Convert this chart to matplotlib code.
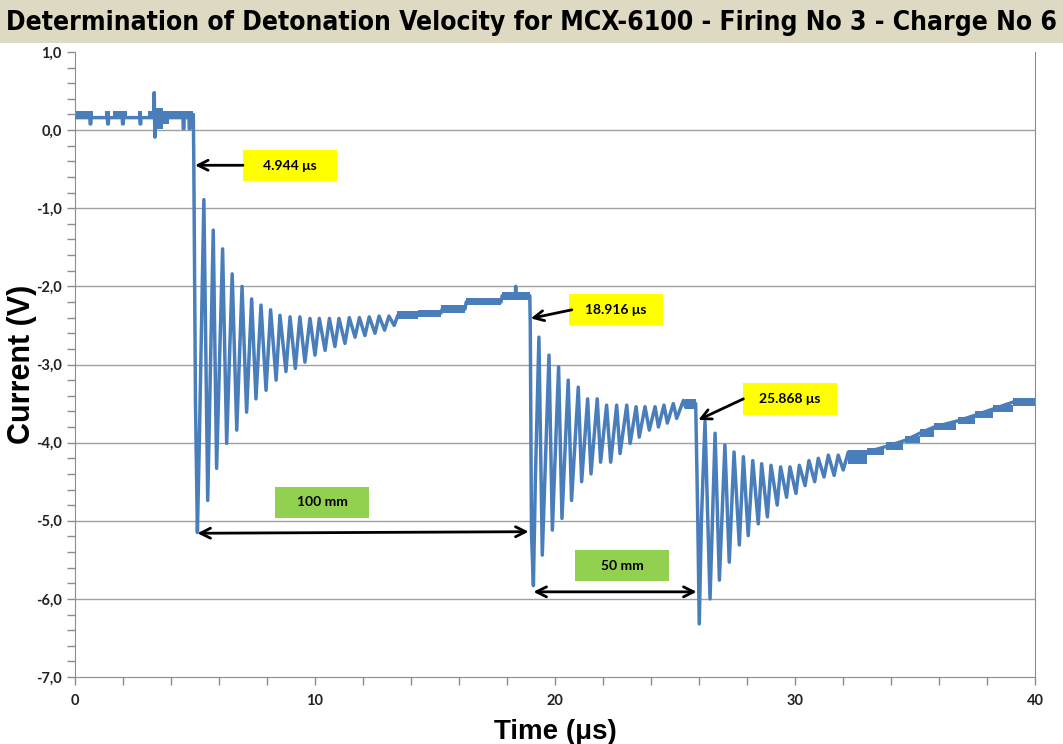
import matplotlib.pyplot as plt
from matplotlib.ticker import MultipleLocator, FuncFormatter
from matplotlib.patches import Rectangle

# trace (peaks / troughs / steps), time in us, volts
trace_t = [0.0, 0.62, 0.63, 0.66, 0.67, 1.35, 1.36, 1.39, 1.40, 1.97, 1.98, 2.01, 2.02,
           2.7, 2.71, 2.74, 2.75, 3.27, 3.30, 3.33, 3.36, 3.9, 4.5, 4.51, 4.54, 4.55,
           4.75, 4.76, 4.79, 4.80, 4.93,
           4.95, 5.02, 5.10, 5.18, 5.37, 5.53, 5.76, 5.90, 6.15, 6.32, 6.55, 6.74, 6.96,
           7.15, 7.36, 7.54, 7.75, 7.96, 8.15, 8.38, 8.54, 8.79, 8.96, 9.18, 9.37, 9.58,
           9.79, 10.0, 10.18, 10.42, 10.6, 10.83, 11.0, 11.25, 11.43, 11.67, 11.85, 12.08,
           12.26, 12.5, 12.67, 12.9, 13.08, 13.3, 13.45, 14.3, 14.3, 15.25, 15.3, 16.25,
           16.3, 17.75, 17.8, 18.35, 18.36, 18.38, 18.95,
           18.97, 19.02, 19.10, 19.18, 19.33, 19.47, 19.75, 19.89, 20.15, 20.29, 20.55,
           20.69, 20.97, 21.11, 21.36, 21.5, 21.76, 21.9, 22.15, 22.32, 22.57, 22.71,
           22.99, 23.13, 23.38, 23.51, 23.75, 23.93, 24.17, 24.31, 24.54, 24.68, 24.93,
           25.07, 25.35, 25.45, 25.6, 25.86,
           25.88, 25.95, 26.01, 26.10, 26.25, 26.46, 26.67, 26.85, 27.08, 27.26, 27.46,
           27.68, 27.85, 28.05, 28.24, 28.47, 28.61, 28.85, 29.0, 29.26, 29.4, 29.65,
           29.79, 30.04, 30.18, 30.42, 30.58, 30.82, 30.97, 31.21, 31.39, 31.63, 31.8,
           32.01, 32.22, 32.4, 33.0, 33.8, 34.6, 35.2, 35.8, 36.8, 37.5, 38.25, 39.1, 40.0]
trace_v = [0.16, 0.16, 0.08, 0.08, 0.16, 0.16, 0.08, 0.08, 0.16, 0.16, 0.08, 0.08, 0.16,
           0.16, 0.08, 0.08, 0.16, 0.16, 0.48, -0.09, 0.16, 0.16, 0.16, 0.02, 0.02, 0.16,
           0.16, 0.02, 0.02, 0.16, 0.20,
           -0.40, -3.50, -5.15, -4.00, -0.89, -4.74, -1.28, -4.33, -1.52, -4.01, -1.84,
           -3.84, -2.00, -3.61, -2.16, -3.44, -2.24, -3.33, -2.30, -3.20, -2.37, -3.09,
           -2.39, -3.05, -2.39, -2.97, -2.41, -2.88, -2.41, -2.82, -2.41, -2.77, -2.41,
           -2.73, -2.40, -2.65, -2.40, -2.63, -2.39, -2.60, -2.38, -2.56, -2.38, -2.50,
           -2.37, -2.37, -2.34, -2.34, -2.29, -2.29, -2.20, -2.20, -2.12, -2.12, -2.00,
           -2.12, -2.12,
           -2.50, -5.16, -5.83, -4.50, -2.65, -5.44, -2.88, -5.12, -3.03, -4.97, -3.20,
           -4.74, -3.29, -4.50, -3.44, -4.40, -3.44, -4.25, -3.52, -4.25, -3.52, -4.14,
           -3.52, -4.01, -3.54, -3.93, -3.54, -3.84, -3.54, -3.80, -3.52, -3.75, -3.50,
           -3.69, -3.46, -3.55, -3.47, -3.50,
           -3.80, -5.00, -6.32, -5.00, -3.73, -6.00, -3.88, -5.76, -4.03, -5.53, -4.12,
           -5.31, -4.18, -5.19, -4.23, -5.04, -4.27, -4.95, -4.29, -4.80, -4.31, -4.70,
           -4.31, -4.65, -4.29, -4.55, -4.23, -4.50, -4.20, -4.44, -4.16, -4.42, -4.16,
           -4.35, -4.12, -4.20, -4.12, -4.05, -3.97, -3.88, -3.80, -3.72, -3.65, -3.57,
           -3.48, -3.48]

# noisy stretches where the trace flickers between two levels (start, end, low, high)
band_t0 = [0.04, 1.25, 1.60, 2.64, 3.05, 3.26, 3.65, 3.90, 13.4, 14.3, 15.25, 16.3,
           17.78, 25.4, 32.2, 33.0, 33.8, 34.6, 35.2, 35.8, 36.8, 37.5, 38.25, 39.1]
band_t1 = [0.76, 1.46, 2.15, 2.78, 3.26, 3.65, 3.90, 4.93, 14.3, 15.25, 16.25, 17.75,
           18.95, 25.87, 33.0, 33.7, 34.5, 35.2, 35.8, 36.7, 37.5, 38.25, 39.1, 40.0]
band_lo = [0.15, 0.15, 0.15, 0.15, 0.15, 0.02, 0.08, 0.15, -2.42, -2.39, -2.34, -2.24,
           -2.17, -3.57, -4.27, -4.16, -4.10, -4.01, -3.93, -3.84, -3.76, -3.69, -3.61,
           -3.53]
band_hi = [0.24, 0.24, 0.24, 0.24, 0.24, 0.28, 0.25, 0.24, -2.32, -2.30, -2.24, -2.15,
           -2.07, -3.44, -4.10, -4.07, -3.99, -3.92, -3.83, -3.75, -3.67, -3.60, -3.52,
           -3.43]

blue = '#4a7ebb'

fig = plt.figure(figsize=(10.63, 7.44), dpi=100)

# title banner
fig.patches.append(Rectangle((0, 1 - 43 / 744), 1, 43 / 744, transform=fig.transFigure,
                             facecolor='#ddd9c3', edgecolor='none', zorder=0))
fig.text(0.5, 1 - 23 / 744, 'Determination of Detonation Velocity for MCX-6100 - Firing No 3 - Charge No 6',
         ha='center', va='center', fontsize=19, fontweight='bold', fontstretch='condensed',
         family=['DejaVu Sans'])

ax = fig.add_axes([75 / 1063, 1 - 677 / 744, 960 / 1063, 625 / 744])

widths = [b - a for a, b in zip(band_t0, band_t1)]
heights = [h - l for l, h in zip(band_lo, band_hi)]
ax.bar(band_t0, heights, width=widths, bottom=band_lo, align='edge', color=blue,
       linewidth=0, zorder=3)
ax.plot(trace_t, trace_v, color=blue, lw=2.5, zorder=3)

ax.set_xlim(0, 40)
ax.set_ylim(-7, 1)
ax.xaxis.set_major_locator(MultipleLocator(10))
ax.xaxis.set_minor_locator(MultipleLocator(2))
ax.yaxis.set_major_locator(MultipleLocator(1))
ax.yaxis.set_minor_locator(MultipleLocator(0.2))
ax.yaxis.set_major_formatter(FuncFormatter(lambda v, p: f'{v:.1f}'.replace('.', ',')))
for y in range(-6, 1):
    ax.axhline(y, color='#a0a0a0', lw=1, zorder=1)

ax.spines['top'].set_visible(False)
for s in ['left', 'bottom', 'right']:
    ax.spines[s].set_color('#8c8c8c')
ax.tick_params(which='both', direction='out', color='#8c8c8c', length=6, width=1)
ax.tick_params(axis='both', labelsize=10.5, labelcolor='#222222')
for lab in ax.get_xticklabels() + ax.get_yticklabels():
    lab.set_fontweight('bold')
    lab.set_family('Lato')
ax.tick_params(axis='x', pad=6)

ax.set_xlabel('Time (\u03bcs)', fontsize=20, fontweight='bold', family='Liberation Sans', labelpad=8)
ax.set_ylabel('Current (V)', fontsize=22, fontweight='bold', family='Liberation Sans', labelpad=-1)

# arrows and labels
arr = dict(arrowstyle='->', color='black', lw=2, mutation_scale=18, shrinkA=0, shrinkB=0)
dbl = dict(arrowstyle='<->', color='black', lw=2, mutation_scale=18, shrinkA=0, shrinkB=0)
ax.annotate('', xy=(5.0, -0.45), xytext=(7.0, -0.45), arrowprops=arr, zorder=5)
ax.annotate('', xy=(18.99, -2.41), xytext=(20.7, -2.30), arrowprops=arr, zorder=5)
ax.annotate('', xy=(25.97, -3.71), xytext=(27.85, -3.44), arrowprops=arr, zorder=5)
ax.annotate('', xy=(5.1, -5.16), xytext=(18.9, -5.14), arrowprops=dbl, zorder=5)
ax.annotate('', xy=(19.1, -5.91), xytext=(25.9, -5.91), arrowprops=dbl, zorder=5)

boxes = [(7.0, 10.92, -0.65, -0.26, '4.944 \u03bcs', '#ffff00'),
         (20.6, 24.5, -2.50, -2.10, '18.916 \u03bcs', '#ffff00'),
         (27.83, 31.75, -3.64, -3.24, '25.868 \u03bcs', '#ffff00'),
         (8.33, 12.25, -4.96, -4.57, '100 mm', '#92d050'),
         (20.83, 24.75, -5.77, -5.38, '50 mm', '#92d050')]
for x0, x1, y0, y1, txt, col in boxes:
    ax.add_patch(Rectangle((x0, y0), x1 - x0, y1 - y0, facecolor=col, edgecolor='none', zorder=4))
    ax.text((x0 + x1) / 2, (y0 + y1) / 2, txt, ha='center', va='center', fontsize=10,
            fontweight='bold', family=['Lato', 'DejaVu Sans'], zorder=6)

fig.savefig('out.png', dpi=100)
